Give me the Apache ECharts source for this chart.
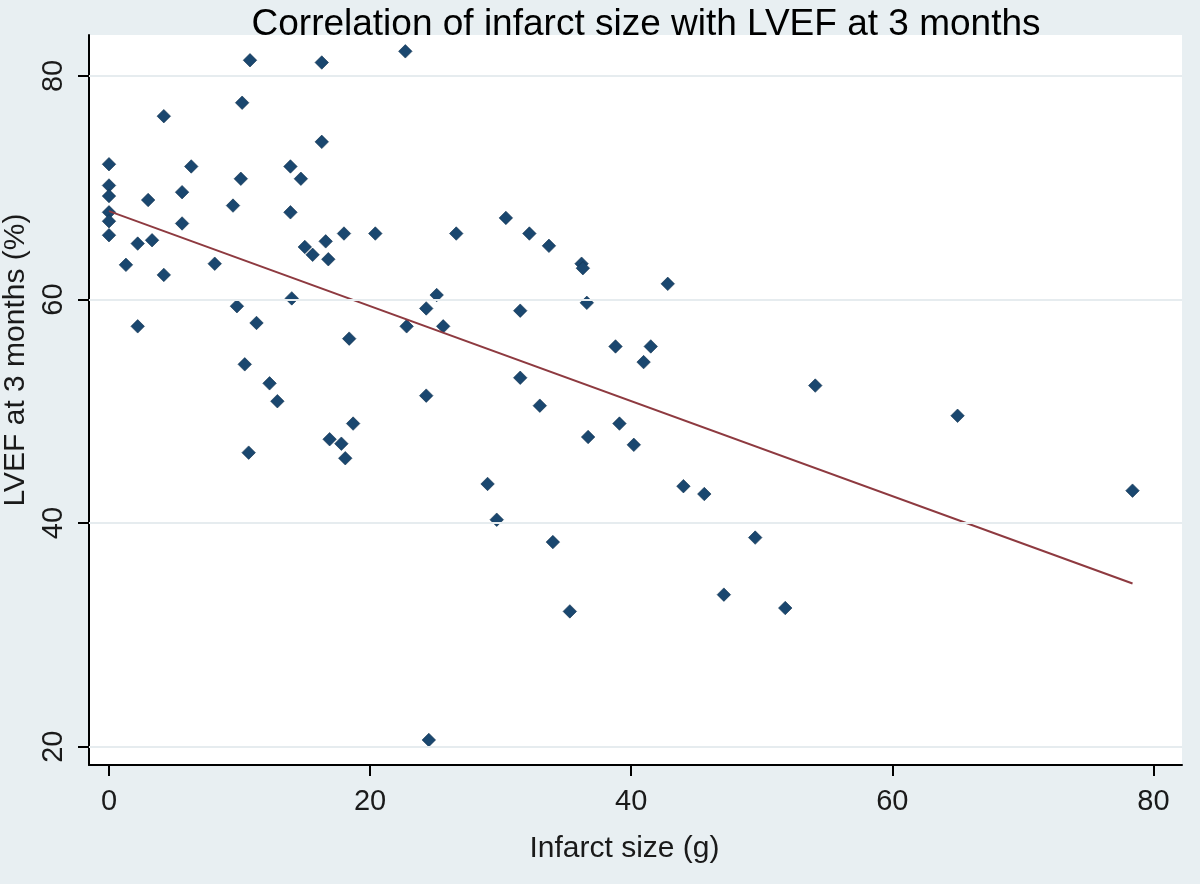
<!DOCTYPE html>
<html>
<head>
<meta charset="utf-8">
<script src="https://cdn.jsdelivr.net/npm/echarts@6/dist/echarts.min.js"></script>
<style>
html,body{margin:0;padding:0;background:#e8eff2;}
#chart{width:1200px;height:884px;}
</style>
</head>
<body>
<div id="chart"></div>
<script>
// Infarct size (g)
var infarctSize = [0,0,0,0,0,0,1.3,2.2,2.2,3.0,3.3,4.2,4.2,5.6,5.6,6.3,8.1,9.5,9.8,10.1,10.2,10.4,10.7,10.8,11.3,12.3,12.9,13.9,13.9,14.0,14.7,15.0,15.6,16.3,16.3,16.6,16.8,16.9,17.8,18.0,18.1,18.4,18.7,20.4,22.7,22.8,24.3,24.3,24.5,25.1,25.6,26.6,29.0,29.7,30.4,31.5,31.5,32.2,33.0,33.7,34.0,35.3,36.2,36.3,36.6,36.7,38.8,39.1,40.2,40.95,41.5,42.8,44.0,45.6,47.1,49.5,51.8,54.1,65.0,78.4];
// LVEF at 3 months (%)
var lvef = [72.1,70.2,69.25,67.8,67.0,65.75,63.1,65.0,57.6,68.9,65.3,76.4,62.2,69.6,66.8,71.9,63.2,68.4,59.4,70.8,77.6,54.2,46.3,81.4,57.9,52.5,50.9,71.9,67.8,60.1,70.8,64.7,64.0,81.2,74.1,65.2,63.6,47.5,47.1,65.9,45.8,56.5,48.9,65.9,82.2,57.6,59.2,51.4,20.6,60.4,57.6,65.9,43.5,40.3,67.3,59.0,53.0,65.9,50.5,64.8,38.3,32.1,63.2,62.8,59.7,47.7,55.8,48.9,47.0,54.4,55.8,61.4,43.3,42.6,33.6,38.7,32.4,52.3,49.6,42.9];
// Fitted line end points
var fitX = [0, 78.4];
var fitY = [67.9, 34.6];
// Tick labels
var xTicks = [0, 20, 40, 60, 80];
var yTicks = [20, 40, 60, 80];

var points = infarctSize.map(function (x, i) { return [x, lvef[i]]; });
var fitLine = fitX.map(function (x, i) { return [x, fitY[i]]; });

var FONT = 'Liberation Sans, Arial, sans-serif';
var chart = echarts.init(document.getElementById('chart'), null, {renderer: 'canvas'});
chart.setOption({
  backgroundColor: '#e8eff2',
  animation: false,
  title: {
    text: 'Correlation of infarct size with LVEF at 3 months',
    left: 641, top: 1, textAlign: 'center',
    textStyle: {fontFamily: FONT, fontSize: 37, fontWeight: 'normal', color: '#000'}
  },
  grid: {left: 89, right: 18, top: 35, bottom: 119, show: true, backgroundColor: '#ffffff', borderWidth: 0,
         containLabel: false, outerBoundsMode: 'none'},
  xAxis: {
    type: 'value', min: -1.53, max: 82.19,
    name: 'Infarct size (g)', nameLocation: 'middle', nameGap: 69,
    nameTextStyle: {fontFamily: FONT, fontSize: 30, color: '#1a1a1a', padding: [0, 22, 0, 0]},
    axisLine: {show: true, onZero: false, lineStyle: {color: '#000', width: 2}},
    axisTick: {show: true, length: 11, customValues: xTicks, lineStyle: {color: '#000', width: 2}},
    axisLabel: {customValues: xTicks, margin: 22, fontFamily: FONT, fontSize: 29, color: '#1a1a1a'},
    splitLine: {show: false}
  },
  yAxis: {
    type: 'value', min: 18.36, max: 83.66,
    name: 'LVEF at 3 months (%)', nameLocation: 'middle', nameGap: 47,
    nameTextStyle: {fontFamily: FONT, fontSize: 30, color: '#1a1a1a', padding: [0, 0, 0, 80]},
    axisLine: {show: true, onZero: false, lineStyle: {color: '#000', width: 2}},
    axisTick: {show: true, length: 11, customValues: yTicks, lineStyle: {color: '#000', width: 2}},
    axisLabel: {customValues: yTicks, rotate: 90, margin: 21, fontFamily: FONT, fontSize: 29, color: '#1a1a1a'},
    splitLine: {show: false}
  },
  series: [
    {
      type: 'line', data: [], z: 1, silent: true,
      markLine: {
        silent: true, symbol: 'none', label: {show: false}, animation: false,
        lineStyle: {color: '#e6ecef', width: 2, type: 'solid'},
        data: yTicks.map(function (v) { return {yAxis: v}; })
      }
    },
    {
      type: 'scatter', data: points, z: 2,
      symbol: 'diamond', symbolSize: 13.5,
      itemStyle: {color: '#1a476f', borderColor: '#10304d', borderWidth: 0.6, opacity: 1}
    },
    {
      type: 'line', data: fitLine, z: 3, symbol: 'none', silent: true,
      lineStyle: {color: '#8e3a40', width: 2}
    }
  ]
});
</script>
</body>
</html>
